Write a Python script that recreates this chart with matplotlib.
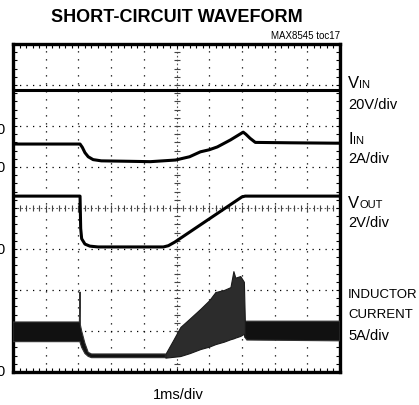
import numpy as np
import matplotlib
matplotlib.use("Agg")
import matplotlib.pyplot as plt

plt.rcParams['font.family'] = ['Liberation Sans Narrow', 'Liberation Sans', 'DejaVu Sans']

###############
# TRACE DATA  #
###############
# scope screen is 10 x 8 divisions, values read in divisions from bottom-left
vin_t = [0.0, 10.0]
vin = [6.88, 6.88]

iin_t = [0.0, 2.05, 2.12, 2.2, 2.3, 2.45, 2.7, 3.5, 4.2, 4.97, 5.4, 5.73, 6.0,
         6.25, 6.65, 7.04, 7.12, 7.25, 7.41, 8.5, 10.0]
iin = [5.56, 5.56, 5.48, 5.35, 5.25, 5.18, 5.15, 5.14, 5.13, 5.17, 5.25, 5.37,
       5.42, 5.49, 5.66, 5.85, 5.8, 5.7, 5.6, 5.59, 5.58]

vout_t = [0.0, 2.05, 2.07, 2.1, 2.2, 2.35, 2.6, 3.0, 4.6, 4.75, 4.95, 7.0, 7.1, 10.0]
vout = [4.29, 4.29, 3.5, 3.25, 3.12, 3.07, 3.05, 3.05, 3.05, 3.08, 3.17, 4.27, 4.29, 4.29]

# inductor current ripple envelope (low / high edge)
ind_t = [0.0, 2.03, 2.05, 2.06, 2.1, 2.2, 2.3, 2.4, 4.66, 4.9, 5.12, 5.4, 5.73,
         6.0, 6.19, 6.45, 6.65, 6.74, 6.8, 6.95, 7.06, 7.09, 7.15, 10.0]
ind_hi = [1.22, 1.22, 1.95, 1.15, 1.0, 0.7, 0.48, 0.44, 0.44, 0.78, 1.10, 1.30, 1.54,
          1.75, 1.95, 2.0, 2.07, 2.46, 2.3, 2.34, 2.2, 1.24, 1.24, 1.24]
ind_lo = [0.74, 0.74, 0.74, 0.7, 0.6, 0.45, 0.38, 0.35, 0.35, 0.37, 0.39, 0.46, 0.56,
          0.62, 0.68, 0.74, 0.80, 0.82, 0.84, 0.88, 0.93, 0.85, 0.78, 0.76]

# ground markers on the left edge
zero_levels = [5.93, 5.0, 3.0, 0.02]

W, H = 419, 406
fig = plt.figure(figsize=(W / 100, H / 100), dpi=100)
ax = fig.add_axes([13 / W, 1 - 373 / H, 327 / W, 328 / H])

ax.set_xlim(0, 10)
ax.set_ylim(0, 8)

# graticule
for x in range(1, 10):
    if x != 5:
        ax.axvline(x, color='black', lw=0.9, ls=(0, (1, 5.4)), zorder=1)
for y in range(1, 8):
    if y != 4:
        ax.axhline(y, color='black', lw=0.9, ls=(0, (1, 4.2)), zorder=1)
ax.axhline(4, color='#555555', lw=0.8, ls=(0, (1.5, 2)), zorder=1)
ax.axvline(5, color='#555555', lw=0.8, ls=(0, (1.5, 2)), zorder=1)
minor_x = np.arange(0, 10.01, 0.2)
minor_y = np.arange(0, 8.01, 0.2)
ax.plot(minor_x, np.full(len(minor_x), 4.0), ls='none', marker='|', ms=4, mew=0.8, color='#444444', zorder=1)
ax.plot(np.full(len(minor_y), 5.0), minor_y, ls='none', marker='_', ms=4, mew=0.8, color='#444444', zorder=1)

ax.set_xticks(np.arange(0, 10.01, 1))
ax.set_yticks(np.arange(0, 8.01, 1))
ax.set_xticks(minor_x, minor=True)
ax.set_yticks(minor_y, minor=True)
ax.tick_params(which='both', direction='in', top=True, right=True, length=3, width=0.8,
               labelbottom=False, labelleft=False)
for s in ax.spines.values():
    s.set_linewidth(2.4)

# traces
ax.plot(vin_t, vin, color='black', lw=2.2, zorder=3)
ax.plot(iin_t, iin, color='black', lw=2.2, zorder=3)
ax.plot(vout_t, vout, color='black', lw=2.2, zorder=3)
t = np.array(ind_t)
ramp = (t >= 4.66) & (t <= 7.09)
flat = (t <= 4.66) | (t >= 7.09)
ax.fill_between(ind_t, ind_lo, ind_hi, where=flat, color='#111111', lw=0.8, edgecolor='#333333', zorder=3)
ax.fill_between(ind_t, ind_lo, ind_hi, where=ramp, color='#2c2c2c', lw=0.8, edgecolor='#1a1a1a', zorder=3)

# text
fig.text(177 / W, 1 - 17 / H, 'SHORT-CIRCUIT WAVEFORM', ha='center', va='center',
         fontsize=13, fontweight='bold')
fig.text(340 / W, 1 - 36 / H, 'MAX8545 toc17', ha='right', va='center', fontsize=7)
fig.text(178 / W, 1 - 395 / H, '1ms/div', ha='center', va='center', fontsize=10.5)

for lvl in zero_levels:
    fig.text(5 / W, 1 - (373 - 41 * lvl) / H, '0', ha='right', va='center', fontsize=10.5)

lx = 348 / W
fig.text(lx, 1 - 88 / H, 'V', ha='left', va='baseline', fontsize=12)
fig.text(359 / W, 1 - 88 / H, 'IN', ha='left', va='baseline', fontsize=8)
fig.text(lx, 1 - 109 / H, '20V/div', ha='left', va='baseline', fontsize=10.5)
fig.text(lx, 1 - 144 / H, 'I', ha='left', va='baseline', fontsize=12)
fig.text(353 / W, 1 - 144 / H, 'IN', ha='left', va='baseline', fontsize=8)
fig.text(lx, 1 - 163 / H, '2A/div', ha='left', va='baseline', fontsize=10.5)
fig.text(lx, 1 - 208 / H, 'V', ha='left', va='baseline', fontsize=12)
fig.text(359 / W, 1 - 208 / H, 'OUT', ha='left', va='baseline', fontsize=8)
fig.text(lx, 1 - 227 / H, '2V/div', ha='left', va='baseline', fontsize=10.5)
fig.text(lx, 1 - 298 / H, 'INDUCTOR', ha='left', va='baseline', fontsize=9.5)
fig.text(lx, 1 - 318 / H, 'CURRENT', ha='left', va='baseline', fontsize=9.5)
fig.text(lx, 1 - 340 / H, '5A/div', ha='left', va='baseline', fontsize=10.5)

fig.savefig('out.png', dpi=100)
